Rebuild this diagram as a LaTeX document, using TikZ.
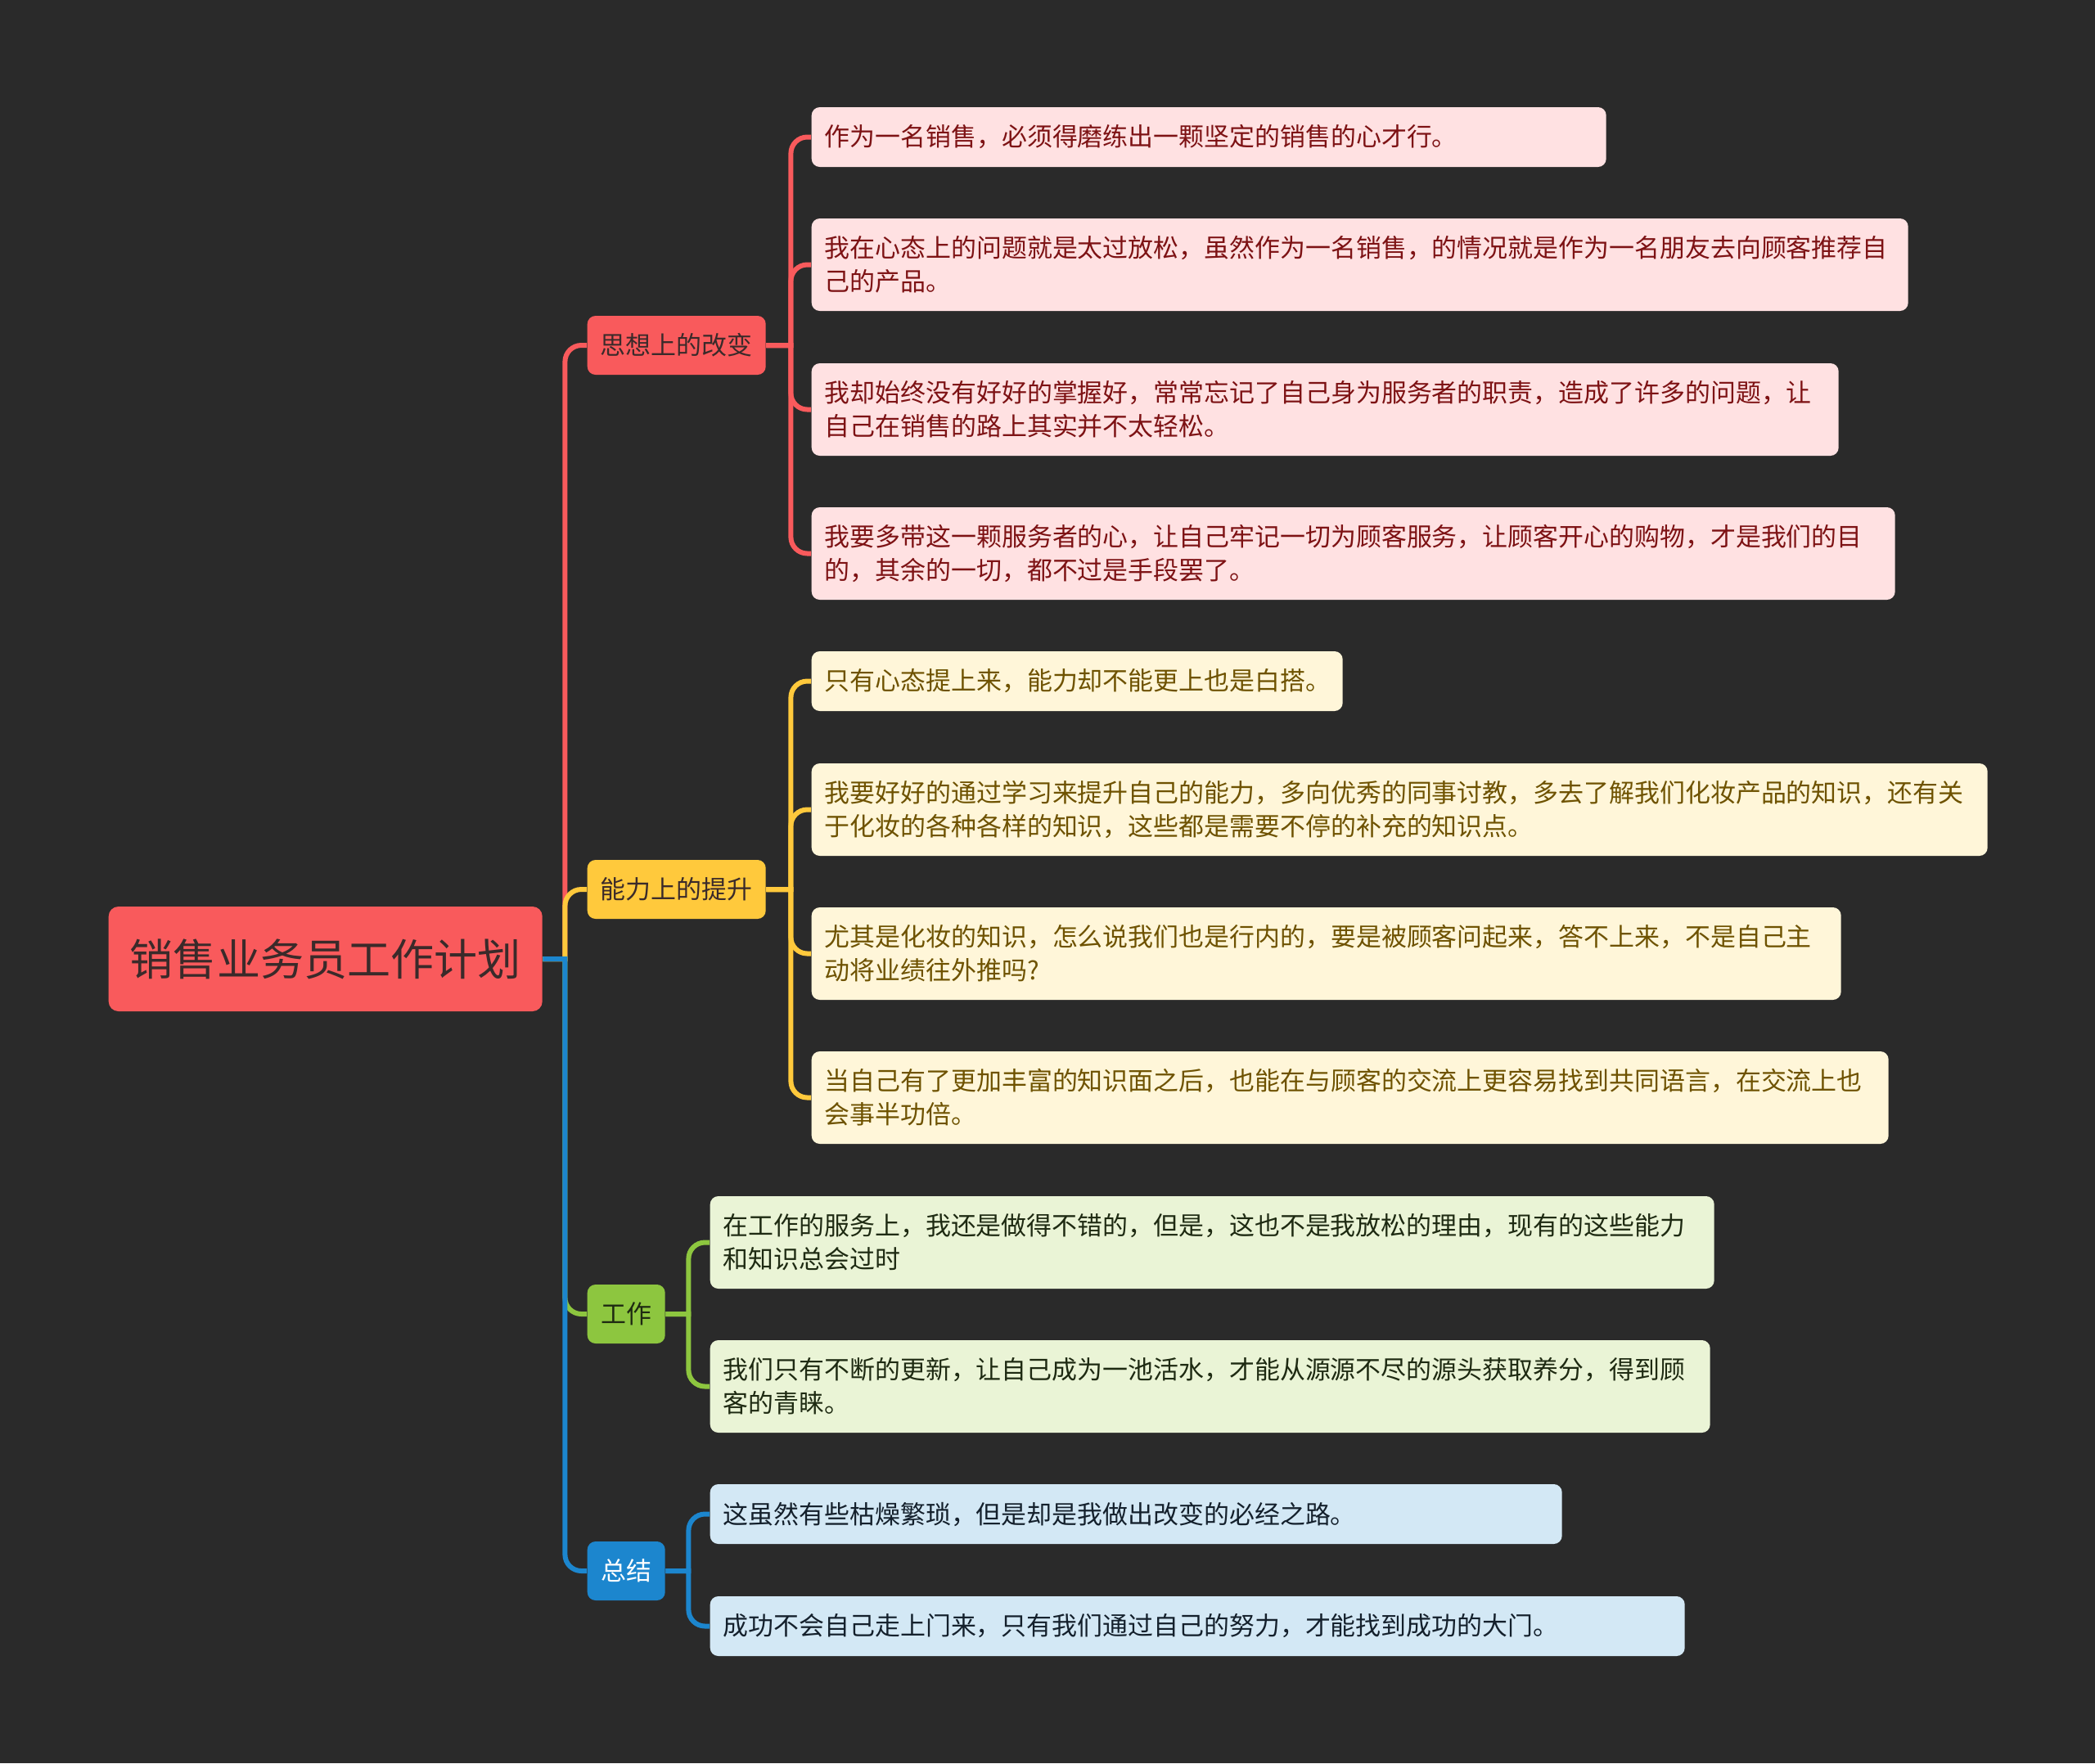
\documentclass[tikz,border=0pt]{standalone}
\usepackage{fontspec}
\setmainfont{Noto Sans CJK SC}
\definecolor{bgdark}{HTML}{2A2A2A}
\definecolor{mainred}{HTML}{F95A5C}
\definecolor{mainyellow}{HTML}{FFC93C}
\definecolor{maingreen}{HTML}{8DC63F}
\definecolor{mainblue}{HTML}{1C86CE}
\definecolor{rootink}{HTML}{3A2A2A}
\definecolor{thinkfill}{HTML}{FFE1E2}
\definecolor{thinkink}{HTML}{7D1214}
\definecolor{skillfill}{HTML}{FFF6D9}
\definecolor{skillink}{HTML}{6E5200}
\definecolor{workfill}{HTML}{EAF4D6}
\definecolor{workink}{HTML}{1E2A12}
\definecolor{summfill}{HTML}{D3E8F5}
\definecolor{summink}{HTML}{14202C}
\usetikzlibrary{positioning}
\begin{document}
\begin{tikzpicture}[
  every node/.style={inner sep=0pt},
  rootbox/.style={rectangle, rounded corners=0.12cm, fill=mainred,
                  minimum width=5.30cm, minimum height=1.28cm,
                  font=\fontsize{15.1pt}{18pt}\selectfont, text=rootink, anchor=west},
  branchR/.style={rectangle, rounded corners=0.1cm, fill=mainred,
                  minimum height=0.72cm, inner xsep=0.16cm,
                  font=\fontsize{8.8pt}{11.7pt}\selectfont, text=rootink, anchor=west},
  branchY/.style={branchR, fill=mainyellow, text=rootink},
  branchG/.style={branchR, fill=maingreen, text=workink},
  branchB/.style={branchR, fill=mainblue, text=white},
  leafR/.style={rectangle, rounded corners=0.1cm, fill=thinkfill,
                minimum height=0.73cm, inner xsep=0.16cm, inner ysep=0.05cm,
                font=\fontsize{8.8pt}{11.7pt}\selectfont, text=thinkink,
                align=left, anchor=west},
  leafY/.style={leafR, fill=skillfill, text=skillink},
  leafG/.style={leafR, fill=workfill, text=workink},
  leafB/.style={leafR, fill=summfill, text=summink},
  tall/.style={minimum height=1.13cm},
  linkR/.style={draw=mainred, line width=0.06cm},
  linkY/.style={linkR, draw=mainyellow},
  linkG/.style={linkR, draw=maingreen},
  linkB/.style={linkR, draw=mainblue},
  elbow/.style={rounded corners=0.2cm}
]
\fill[bgdark] (0,0) rectangle (25.6,-21.55);
\useasboundingbox (0,0) rectangle (25.6,-21.55);

% ROOT AND BRANCHES
\node[rootbox] (root) at (1.32,-11.72) {销售业务员工作计划};
\node[branchR, minimum width=2.18cm] (think) at (7.17,-4.22)  {思想上的改变};
\node[branchY, minimum width=2.18cm] (skill) at (7.17,-10.87) {能力上的提升};
\node[branchG, minimum width=0.95cm] (work)  at (7.17,-16.06) {工作};
\node[branchB, minimum width=0.95cm] (summ)  at (7.17,-19.20) {总结};

% BRANCH 1: THINKING
\node[leafR, text width=9.39cm] (think1) at (9.91,-1.675) {作为一名销售，必须得磨练出一颗坚定的销售的心才行。};
\node[leafR, tall, text width=13.08cm] (think2) at (9.91,-3.235) {我在心态上的问题就是太过放松，虽然作为一名销售，的情况就是作为一名朋友去向顾客推荐自\\己的产品。};
\node[leafR, tall, text width=12.23cm] (think3) at (9.91,-5.005) {我却始终没有好好的掌握好，常常忘记了自己身为服务者的职责，造成了许多的问题，让\\自己在销售的路上其实并不太轻松。};
\node[leafR, tall, text width=12.92cm] (think4) at (9.91,-6.765) {我要多带这一颗服务者的心，让自己牢记一切为顾客服务，让顾客开心的购物，才是我们的目\\的，其余的一切，都不过是手段罢了。};

% BRANCH 2: SKILLS
\node[leafY, text width=6.17cm] (skill1) at (9.91,-8.325) {只有心态提上来，能力却不能更上也是白搭。};
\node[leafY, tall, text width=14.05cm] (skill2) at (9.91,-9.895) {我要好好的通过学习来提升自己的能力，多向优秀的同事讨教，多去了解我们化妆产品的知识，还有关\\于化妆的各种各样的知识，这些都是需要不停的补充的知识点。};
\node[leafY, tall, text width=12.26cm] (skill3) at (9.91,-11.655) {尤其是化妆的知识，怎么说我们也是行内的，要是被顾客问起来，答不上来，不是自己主\\动将业绩往外推吗?};
\node[leafY, tall, text width=12.84cm] (skill4) at (9.91,-13.415) {当自己有了更加丰富的知识面之后，也能在与顾客的交流上更容易找到共同语言，在交流上也\\会事半功倍。};

% BRANCH 3: WORK
\node[leafG, tall, text width=11.95cm] (work1) at (8.67,-15.185) {在工作的服务上，我还是做得不错的，但是，这也不是我放松的理由，现有的这些能力\\和知识总会过时};
\node[leafG, tall, text width=11.90cm] (work2) at (8.67,-16.945) {我们只有不断的更新，让自己成为一池活水，才能从源源不尽的源头获取养分，得到顾\\客的青睐。};

% BRANCH 4: SUMMARY
\node[leafB, text width=10.09cm] (summ1) at (8.67,-18.505) {这虽然有些枯燥繁琐，但是却是我做出改变的必经之路。};
\node[leafB, text width=11.59cm] (summ2) at (8.67,-19.875) {成功不会自己走上门来，只有我们通过自己的努力，才能找到成功的大门。};

% connectors from the root
\draw[linkR] (root.east) -- ++(0.27,0) [elbow] |- (think.west);
\draw[linkY] (root.east) -- ++(0.27,0) [elbow] |- (skill.west);
\draw[linkG] (root.east) -- ++(0.27,0) [elbow] |- (work.west);
\draw[linkB] (root.east) -- ++(0.27,0) [elbow] |- (summ.west);

% connectors to the leaves
\draw[linkR] (think.east) -- ++(0.30,0) [elbow] |- (think1.west);
\draw[linkR] (think.east) -- ++(0.30,0) [elbow] |- (think2.west);
\draw[linkR] (think.east) -- ++(0.30,0) [elbow] |- (think3.west);
\draw[linkR] (think.east) -- ++(0.30,0) [elbow] |- (think4.west);
\draw[linkY] (skill.east) -- ++(0.30,0) [elbow] |- (skill1.west);
\draw[linkY] (skill.east) -- ++(0.30,0) [elbow] |- (skill2.west);
\draw[linkY] (skill.east) -- ++(0.30,0) [elbow] |- (skill3.west);
\draw[linkY] (skill.east) -- ++(0.30,0) [elbow] |- (skill4.west);
\draw[linkG] (work.east) -- ++(0.28,0) [elbow] |- (work1.west);
\draw[linkG] (work.east) -- ++(0.28,0) [elbow] |- (work2.west);
\draw[linkB] (summ.east) -- ++(0.28,0) [elbow] |- (summ1.west);
\draw[linkB] (summ.east) -- ++(0.28,0) [elbow] |- (summ2.west);
\end{tikzpicture}
\end{document}
